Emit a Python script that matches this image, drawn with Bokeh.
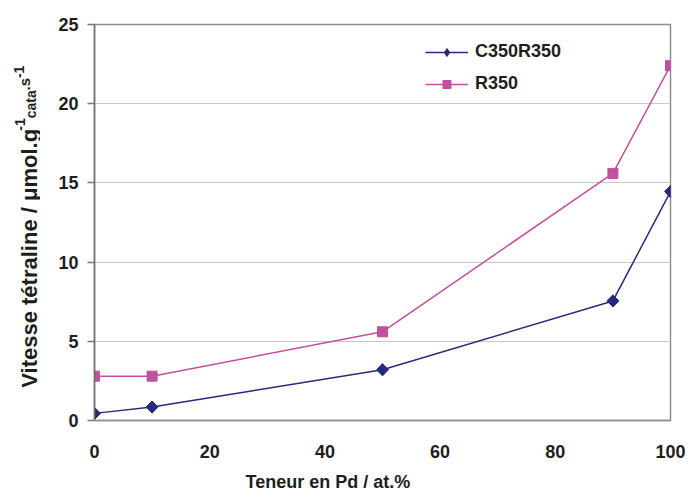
import math
from bokeh.plotting import figure
from bokeh.models import Range1d, FixedTicker, Label, Legend, LegendItem, Title
from bokeh.layouts import row
from bokeh.embed import file_html
from bokeh.resources import INLINE

# ---- data ----
pd_content = [0, 10, 50, 90, 100]
c350r350 = [0.45, 0.85, 3.2, 7.55, 14.45]
r350 = [2.8, 2.8, 5.6, 15.6, 22.4]
x_ticks = [0, 20, 40, 60, 80, 100]
y_ticks = [0, 5, 10, 15, 20, 25]
series_names = ["C350R350", "R350"]
x_title = "Teneur en Pd / at.%"
y_title_main = "Vitesse tétraline / μmol.g"

NAVY = "#272a7a"
PINK = "#c24f9f"
TXT = "#1e1e1e"
FONT = "Liberation Sans"

TOP, BOTTOM = 24, 77      # borders shared by both panels (frames are aligned in a row)
H = 497

# ---- left strip holding the rotated y title (pixel coordinates, y up) ----
LW = 40
left = figure(width=LW, height=H, x_range=Range1d(0, LW), y_range=Range1d(BOTTOM, H - TOP),
              min_border_left=0, min_border_right=0, min_border_top=TOP, min_border_bottom=BOTTOM,
              x_axis_location=None, y_axis_location=None,
              output_backend="svg", toolbar_location=None)
left.outline_line_color = None
left.grid.visible = False
left.background_fill_color = "white"
left.border_fill_color = "white"

pieces = [
    (y_title_main, 29, 107, "22px"),
    ("-1", 19.5, 366, "14px"),
    ("cata", 30.5, 378.5, "14px"),
    (".s", 24, 406.5, "15px"),
    ("-1", 18, 419, "14px"),
]
for txt, xx, yy, fs in pieces:
    left.add_layout(Label(x=xx, y=yy, text=txt, angle=math.pi / 2,
                          text_align="left", text_baseline="alphabetic",
                          text_font=FONT, text_font_style="bold",
                          text_font_size=fs, text_color=TXT))

# ---- main chart ----
p = figure(
    frame_width=576, frame_height=396,
    min_border_left=54, min_border_right=19, min_border_top=TOP, min_border_bottom=BOTTOM,
    x_range=Range1d(0, 100), y_range=Range1d(0, 25),
    output_backend="svg", toolbar_location=None,
)
p.background_fill_color = "white"
p.border_fill_color = "white"
p.outline_line_color = "#8e8e8e"
p.outline_line_width = 1.5

p.xgrid.grid_line_color = None
p.ygrid.grid_line_color = "#c8c8c8"
p.ygrid.grid_line_width = 1
p.ygrid.ticker = FixedTicker(ticks=y_ticks)

p.xaxis.ticker = FixedTicker(ticks=x_ticks)
p.yaxis.ticker = FixedTicker(ticks=y_ticks)
for ax in (p.xaxis[0], p.yaxis[0]):
    ax.major_label_text_font = FONT
    ax.major_label_text_font_style = "bold"
    ax.major_label_text_font_size = "18px"
    ax.major_label_text_color = TXT
    ax.minor_tick_line_color = None
    ax.major_tick_in = 0
p.xaxis.major_tick_out = 0
p.xaxis.major_label_standoff = 24
p.xaxis.axis_line_color = "#8e8e8e"
p.xaxis.axis_line_width = 1.5
p.yaxis.major_tick_out = 7
p.yaxis.major_tick_line_color = "#777777"
p.yaxis.major_tick_line_width = 1.5
p.yaxis.major_label_standoff = 9
p.yaxis.axis_line_color = "#6e6e6e"
p.yaxis.axis_line_width = 1.5

l1 = p.line(pd_content, c350r350, line_color=NAVY, line_width=1.5)
# narrow diamond used for the legend icon; fully hidden under the chart's diamonds
m1_leg = p.scatter(pd_content, c350r350, marker="diamond", size=12, fill_color=NAVY, line_color=NAVY)
m1 = p.scatter(pd_content, c350r350, marker="square", angle=math.pi / 4, size=8.5,
               fill_color=NAVY, line_color=NAVY)
l2 = p.line(pd_content, r350, line_color=PINK, line_width=1.5)
m2 = p.scatter(pd_content, r350, marker="square", size=10, fill_color=PINK, line_color=PINK)

legend = Legend(
    items=[LegendItem(label=series_names[0], renderers=[l1, m1_leg]),
           LegendItem(label=series_names[1], renderers=[l2, m2])],
    location=(331, 326),
    glyph_width=43, glyph_height=20, label_height=20, spacing=11,
    label_standoff=7, padding=0, margin=0,
    border_line_color=None, background_fill_alpha=0,
    label_text_font=FONT, label_text_font_style="bold",
    label_text_font_size="18px", label_text_color=TXT,
)
p.add_layout(legend)

p.add_layout(Title(text=x_title, align="left", offset=151, standoff=18,
                   text_font=FONT, text_font_style="bold",
                   text_font_size="18px", text_color=TXT), "below")

layout = row(left, p)
open("out.html", "w").write(file_html(layout, INLINE))
